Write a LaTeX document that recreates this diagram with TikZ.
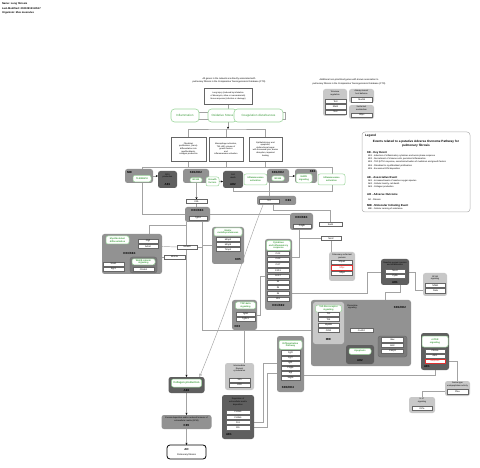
\documentclass[tikz,border=0pt]{standalone}
\usepackage{fontspec}
\setmainfont{Liberation Sans}
\usetikzlibrary{arrows.meta}
\definecolor{kegrey}{HTML}{929292}
\definecolor{aegrey}{HTML}{5F5F5F}
\definecolor{ltgrey}{HTML}{C8C8C8}
\definecolor{apogrey}{HTML}{7A7A7A}
\definecolor{pwgreen}{HTML}{3C9B3C}
\definecolor{pwedge}{HTML}{9AD69A}
\definecolor{wiregrey}{HTML}{A3A3A3}
\definecolor{geneedge}{HTML}{666666}
\definecolor{hitred}{HTML}{E03030}
\pgfdeclarelayer{paper}
\pgfdeclarelayer{wires}
\pgfsetlayers{paper,wires,main}

\begin{document}
\begin{tikzpicture}[x=1pt,y=-1pt,
 every node/.style={font=\fontsize{2.3}{2.7}\selectfont, inner sep=0pt, outer sep=0pt, align=center},
 kegrp/.style={fill=kegrey, rounded corners=2.5pt},
 aegrp/.style={fill=aegrey, rounded corners=2.5pt},
 ltgrp/.style={fill=ltgrey, rounded corners=2.5pt},
 gene/.style={draw=geneedge, fill=white, line width=0.3pt, minimum height=4.2},
 hit/.style={gene, draw=hitred, text=hitred},
 pw/.style={draw=pwedge, fill=white, text=pwgreen, rounded corners=2pt, line width=0.5pt, font=\fontsize{2.3}{2.7}\selectfont\bfseries},
 bigpw/.style={pw, rounded corners=3.5pt, line width=0.6pt, font=\fontsize{3}{3.4}\selectfont},
 note/.style={draw=geneedge, fill=white, line width=0.4pt, font=\fontsize{2.1}{2.6}\selectfont},
 grptext/.style={font=\fontsize{2.1}{2.6}\selectfont},
 tag/.style={font=\fontsize{2.9}{3.2}\selectfont\bfseries},
 head/.style={anchor=west, font=\fontsize{2.8}{3}\selectfont\bfseries},
 wire/.style={draw=wiregrey, line width=0.45pt},
 arr/.style={wire, -{Stealth[length=2.2pt,width=2pt,color=black]}},
 conv/.style={wire, -{Triangle[open,length=3pt,width=3pt]}}]
\begin{pgfonlayer}{paper}
\fill[white] (0,0) rectangle (480,468);
\end{pgfonlayer}
\useasboundingbox (0,0) rectangle (480,468);

\node[anchor=west, font=\fontsize{2.6}{3}\selectfont\bfseries] (hname) at (2,4) {Name: Lung fibrosis};
\node[anchor=west, font=\fontsize{2.6}{3}\selectfont\bfseries] (hdate) at (2,8.5) {Last-Modified: 20210915113517};
\node[anchor=west, font=\fontsize{2.6}{3}\selectfont\bfseries] (horg) at (2,13) {Organism: Mus musculus};

\node[font=\fontsize{2.3}{3.2}\selectfont] (ctdnote) at (229,80.5) {All genes in the network are directly associated with\\pulmonary fibrosis in the Comparative Toxicogenomics Database (CTD)};
\node[font=\fontsize{2.3}{3.4}\selectfont] (extranote) at (349,82) {Additional non-prioritized genes with known association to\\pulmonary fibrosis in the Comparative Toxicogenomics Database (CTD)};
\node[note, minimum width=48, minimum height=16] (injury) at (228,96) {Lung injury (induced by inhalation\\of bleomycin, silica or nanomaterials)\\tissue response (infection or damage)};

\node[bigpw, minimum width=28, minimum height=13] (inflam) at (185,115.5) {Inflammation};
\node[bigpw, minimum width=29, minimum height=13] (oxstress) at (222.5,115.5) {Oxidative Stress};
\node[bigpw, minimum width=49, minimum height=13] (coag) at (258.5,115.5) {Coagulation disturbances};

\node[note, minimum width=35, minimum height=24] (fibro) at (188.5,149) {Fibroblast\\proliferation, (trans)-\\differentiation into\\myofibroblasts,\\collagen production};
\node[note, minimum width=34, minimum height=24] (macro) at (226,149) {Macrophage activation,\\Th2 shift, release of\\growth factors\\and\\inflammasome activation};
\node[note, minimum width=33, minimum height=24] (epith) at (265.5,149) {Epithelial injury and\\apoptosis,\\dysfunctional repair\\with increased lysis, barrier\\disruption, impaired\\healing};

\node[kegrp, minimum width=28, minimum height=14] (mie) at (139,176) {};
\node[tag, anchor=west] (mietag) at (127,172.3) {MIE};
\node[pw, minimum width=18, minimum height=6.5] (tlrmapk) at (142,178.6) {TLR/MAPK};
\node[aegrp, minimum width=19, minimum height=17] (ros1) at (167.5,179.5) {};
\node[grptext] (ros1txt) at (167.5,176) {ROS\\production};
\node[tag] (ros1tag) at (167.5,184.3) {AE1};
\node[kegrp, minimum width=26, minimum height=14] (nfkbgrp) at (196,176) {};
\node[tag] (nfkbtag) at (196,172.3) {KE1/KE2};
\node[pw, minimum width=12, minimum height=4.5] (nfkb) at (196,180) {NF-kB};
\node[pw, minimum width=13, minimum height=9] (growth) at (212.5,181.5) {Growth\\factors};
\node[aegrp, minimum width=20, minimum height=17] (death) at (233,179.5) {};
\node[grptext] (deathtxt) at (233,176) {Cell\\death};
\node[tag] (deathtag) at (233,184.3) {AE2};
\node[pw, minimum width=23, minimum height=11] (inflsome) at (255.5,179.5) {Inflammasome\\activation};
\node[kegrp, minimum width=22, minimum height=14] (nfkbgrp2) at (278,176) {};
\node[tag] (nfkbtag2) at (278,172.3) {KE1/KE2};
\node[pw, minimum width=12.5, minimum height=5] (nfkb2) at (278,178.4) {NF-kB};
\node[kegrp, minimum width=22, minimum height=14] (mapkgrp) at (306,176) {};
\node[tag, anchor=east] (mapktag) at (315.5,171.8) {KE4};
\node[pw, minimum width=16, minimum height=9] (mapk) at (304,178.3) {MAPK\\signaling};
\node[pw, minimum width=27, minimum height=11] (inflsome2) at (331.5,179.5) {Inflammasome\\activation};

\node[gene, minimum width=21] (il1b) at (196.5,201.5) {Il1b};
\node[kegrp, minimum width=25, minimum height=15] (tgfgrp) at (197.5,214.5) {};
\node[tag] (tgftag) at (197.5,210.5) {KE3/KE4};
\node[gene, minimum width=18] (tgfb1) at (198,218.3) {Tgfb1};
\node[kegrp, minimum width=39, minimum height=9, rounded corners=2pt] (tnfgrp) at (276.5,200.5) {};
\node[gene, minimum width=20] (tnf) at (269,200.8) {Tnf};
\node[tag] (tnftag) at (288.5,200.8) {KE1};
\node[kegrp, minimum width=23, minimum height=17] (pdgfgrp) at (301.5,221.5) {};
\node[tag] (pdgftag) at (301.5,217) {KE3/KE4};
\node[gene, minimum width=18] (pdgfb) at (302,226.3) {Pdgfb};
\node[gene, minimum width=23] (sod1) at (330.5,224.5) {Sod1};
\node[gene, minimum width=20] (nos2) at (331,238.5) {Nos2};
\node[ltgrp, minimum width=26, minimum height=29] (surfgrp) at (342,266.5) {};
\node[grptext] (surftxt) at (342,256.5) {Pulmonary surfactant\\proteins};
\node[gene, minimum width=21] (sftpa) at (342,262) {Sftpa1};
\node[hit, minimum width=21] (sftpc) at (342,267.6) {Sftpc};
\node[gene, minimum width=21] (sftpd) at (342,273.2) {Sftpd};

\node[kegrp, minimum width=60, minimum height=40] (myogrp) at (132,254) {};
\node[pw, minimum width=23, minimum height=8] (myodiff) at (117.5,240) {Myofibroblast\\differentiation};
\node[gene, minimum width=20] (ctgf) at (148,241) {Ctgf};
\node[gene, minimum width=20] (acta2) at (148,246.3) {Acta2};
\node[tag] (myotag) at (129.5,253) {KE3/KE4};
\node[gene, minimum width=21] (snai1) at (113.5,264) {Snai1};
\node[gene, minimum width=21] (egr1) at (113.5,269.2) {Egr1};
\node[fill=apogrey, draw=geneedge, line width=0.3pt, rounded corners=2.5pt, minimum width=27, minimum height=16] (wntgrp) at (143.5,265) {};
\node[pw, minimum width=23, minimum height=6] (wnt) at (143.5,261.8) {Wnt/β-catenin\\signaling};
\node[gene, minimum width=21] (ctnnb1) at (143.5,269.3) {Ctnnb1};
\node[gene, minimum width=20] (smad3) at (187,247) {Smad3};
\node[gene, minimum width=21] (wnt3a) at (174.5,257) {Wnt3a};

\node[kegrp, minimum width=32, minimum height=37] (mmpgrp) at (228,245.5) {};
\node[pw, minimum width=28, minimum height=8] (mmp) at (228,232) {Matrix\\metalloproteinases};
\node[gene, minimum width=24] (mmp2) at (228,239.5) {Mmp2};
\node[gene, minimum width=24] (mmp9) at (228,244.5) {Mmp9};
\node[gene, minimum width=24] (timp1) at (228,249.5) {Timp1};
\node[tag] (mmptag) at (238,260) {KE5};

\node[kegrp, minimum width=27, minimum height=71] (cytogrp) at (278.5,274.5) {};
\node[pw, minimum width=24, minimum height=10] (cyto) at (278.5,245.5) {Cytokines\\and inflammatory\\response};
\node[gene, minimum width=22] (ccl2) at (278,253.3) {Ccl2};
\node[gene, minimum width=22] (ccl3) at (278,259) {Ccl3};
\node[gene, minimum width=22] (ccl7) at (278,264.7) {Ccl7};
\node[gene, minimum width=22] (ccl11) at (278,270.4) {Ccl11};
\node[gene, minimum width=22] (ccl17) at (278,276.1) {Ccl17};
\node[gene, minimum width=22] (il4) at (278,281.8) {Il4};
\node[gene, minimum width=22] (il5) at (278,287.5) {Il5};
\node[gene, minimum width=22] (il6) at (278,293.2) {Il6};
\node[gene, minimum width=22] (il13) at (278,298.9) {Il13};
\node[tag] (cytotag) at (278.5,305.8) {KE1/KE2};

\node[kegrp, minimum width=25, minimum height=30] (tgfbgrp) at (244.5,315) {};
\node[pw, minimum width=20, minimum height=7] (tgfbpw) at (245.5,305.5) {TGF-beta\\signaling};
\node[gene, minimum width=19] (tgfb1b) at (245.5,313.8) {Tgfb1};
\node[gene, minimum width=19] (tgfbr1) at (245.5,319) {Tgfbr1};
\node[tag, anchor=west] (tgfbtag) at (234.5,326.8) {KE3};

\node[ltgrp, minimum width=29, minimum height=27] (ifcgrp) at (239.5,376.5) {};
\node[grptext] (ifctxt) at (239.5,368.6) {Intermediate\\filament\\cytoskeleton};
\node[gene, minimum width=21] (vim) at (239.5,380) {Vim};
\node[gene, minimum width=21] (krt8) at (239.5,385.2) {Krt8};

\node[aegrp, minimum width=32, minimum height=44] (ecmgrp) at (238,417) {};
\node[grptext] (ecmtxt) at (238,402) {Regulation of\\extracellular matrix\\deposition};
\node[gene, minimum width=24] (col1a1) at (238,412) {Col1a1};
\node[gene, minimum width=24] (col3a1) at (238,417.2) {Col3a1};
\node[gene, minimum width=24] (fn1) at (238,422.4) {Fn1};
\node[gene, minimum width=24] (eln) at (238,427.6) {Eln};
\node[tag, anchor=west] (ecmtag) at (226,435) {AE1};

\node[kegrp, minimum width=27, minimum height=56] (diffgrp) at (290.5,364) {};
\node[pw, minimum width=23, minimum height=9] (diff) at (290.5,344.8) {Differentiation\\Pathway};
\node[gene, minimum width=19] (fgf2) at (290.5,352.7) {Fgf2};
\node[gene, minimum width=19] (fgf7) at (290.5,357.8) {Fgf7};
\node[gene, minimum width=19] (igf1) at (290.5,362.9) {Igf1};
\node[gene, minimum width=19] (pdgfa) at (290.5,368) {Pdgfa};
\node[gene, minimum width=19] (egf) at (290.5,373.1) {Egf};
\node[gene, minimum width=19] (vegfa) at (290.5,378.2) {Vegfa};
\node[tag] (difftag) at (288,387.8) {KE3/KE4};

\node[kegrp, minimum width=100, minimum height=66] (chemgrp) at (361,333) {};
\node[tag, anchor=east] (chemtag) at (406,307) {KE1/KE2};
\node[grptext, anchor=west] (chemtxt) at (347,307) {Chemokine\\signaling};
\node[ltgrp, minimum width=31, minimum height=42] (tlrgrp) at (328.5,323) {};
\node[pw, minimum width=26, minimum height=7] (tlr) at (328.5,308.7) {Toll-like receptor\\signaling};
\node[gene, minimum width=21] (tlr2) at (328.5,313.8) {Tlr2};
\node[gene, minimum width=21] (tlr4) at (328.5,319.3) {Tlr4};
\node[gene, minimum width=21] (myd88) at (328.5,324.8) {Myd88};
\node[gene, minimum width=21] (cd14) at (328.5,330.3) {Cd14};
\node[tag] (tlrtag) at (328.5,339.5) {MIE};
\node[gene, minimum width=23] (cxcl12) at (361.5,330.5) {Cxcl12};
\node[fill=apogrey, draw=geneedge, line width=0.4pt, rounded corners=2.5pt, minimum width=29, minimum height=21] (casgrp) at (392.5,346.5) {};
\node[gene, minimum width=22] (bax) at (392.5,339.7) {Bax};
\node[gene, minimum width=22] (bcl2) at (392.5,345.5) {Bcl2};
\node[gene, minimum width=22] (casp3) at (392.5,351.3) {Casp3};
\node[aegrp, minimum width=28, minimum height=19] (apogrp) at (360,354.5) {};
\node[pw, minimum width=22, minimum height=6] (apop) at (360,351.3) {Apoptosis};
\node[tag] (apotag) at (360,360.5) {AE2};

\node[aegrp, minimum width=28, minimum height=26] (rosgrp) at (395,272) {};
\node[grptext] (rostxt) at (395,263.6) {Reactive oxygen species\\and inflammation};
\node[gene, minimum width=20] (nox4) at (395,270.8) {Nox4};
\node[gene, minimum width=20] (cybb) at (395,276.2) {Cybb};
\node[tag] (rostag) at (395,282.2) {AE1};

\node[ltgrp, minimum width=24, minimum height=23] (nrfgrp) at (435,284.5) {};
\node[grptext] (nrftxt) at (435,278) {NF-kB\\signaling};
\node[gene, minimum width=20] (nfkb1) at (435.5,285.5) {Nfkb1};
\node[gene, minimum width=20] (rela) at (435.5,290.7) {Rela};

\node[aegrp, minimum width=28, minimum height=37] (mtorgrp) at (435,351.5) {};
\node[pw, minimum width=26, minimum height=11] (mtor) at (435,341.5) {mTOR\\signaling};
\node[gene, minimum width=20] (pik3ca) at (435,351) {Pik3ca};
\node[gene, minimum width=20] (akt1) at (435,356) {Akt1};
\node[hit, minimum width=20] (serpine) at (435,361.3) {Serpine1};
\node[tag, anchor=west] (mtortag) at (424,366.8) {AE1};

\node[ltgrp, minimum width=25, minimum height=15] (sergrp) at (457.5,388.5) {};
\node[grptext] (sertxt) at (457.5,384.3) {Serine-type\\endopeptidase activity};
\node[gene, minimum width=21] (plau) at (457.5,391.6) {Plau};

\node[ltgrp, minimum width=26, minimum height=16] (ilgrp) at (422,405) {};
\node[grptext] (iltxt) at (422,400.5) {IL-17\\signaling};
\node[gene, minimum width=20] (il17a) at (422,408.3) {Il17a};

\node[aegrp, minimum width=36, minimum height=16] (collgrp) at (186.5,385) {};
\node[pw, minimum width=30, minimum height=8, font=\fontsize{2.7}{3}\selectfont\bfseries] (coll) at (186.5,383) {Collagen production};
\node[tag] (colltag) at (186.5,390.3) {AE3};

\node[kegrp, minimum width=50, minimum height=14] (ecmke) at (186.5,422) {};
\node[grptext] (ecmketxt) at (186.5,419.3) {Excess deposition and/or reduced turnover of\\extracellular matrix (ECM)};
\node[tag] (ecmketag) at (186.5,425.8) {KE5};

\node[draw=black, line width=0.8pt, fill=white, rounded corners=3pt, minimum width=39, minimum height=14] (ao) at (186.5,452) {};
\node[tag] (aotag) at (186.5,449.5) {AO};
\node (aotxt) at (186.5,455.3) {Pulmonary fibrosis};

\node[ltgrp, minimum width=24, minimum height=27] (telgrp) at (335,102.5) {};
\node[grptext] (teltxt) at (335,93.5) {Telomere\\regulation};
\node[gene, minimum width=21] (tert) at (335.5,101.3) {Tert};
\node[gene, minimum width=21] (rtel1) at (335.5,106.7) {Rtel1};
\node[gene, minimum width=21] (terc) at (335.5,112) {Terc};
\node[ltgrp, minimum width=25, minimum height=14] (mucgrp) at (361.5,96) {};
\node[grptext] (muctxt) at (361.5,92.4) {Airway mucus/\\host defense};
\node[gene, minimum width=21] (muc5b) at (361.8,99.7) {Muc5b};
\node[ltgrp, minimum width=25, minimum height=14] (sfcgrp) at (361.5,112) {};
\node[grptext] (sfctxt) at (361.5,108.4) {Surfactant\\metabolism};
\node[gene, minimum width=21] (sftpc2) at (361.8,114.8) {Sftpc};

\node[draw=gray!60, fill=white, rounded corners=3pt, line width=0.5pt, minimum width=108, minimum height=80] (legend) at (416,172) {};
\node[anchor=west, font=\fontsize{3.1}{3.4}\selectfont\bfseries] (legtitle) at (365,136) {Legend};
\node[font=\fontsize{3.1}{3.7}\selectfont\bfseries] (legaop) at (416,143.8) {Events related to a putative Adverse Outcome Pathway for\\pulmonary fibrosis};
\node[head] (legke) at (367,153) {KE - Key Event};
\node[anchor=north west, align=left, font=\fontsize{2.2}{3.3}\selectfont] (legkelist) at (368,154.8) {KE1 - Induction of inflammatory cytokines and acute phase response\\KE2 - Recruitment of immune cells, persistent inflammation\\KE3 - TGF-β/Th2 response, secretion/activation of mediators and growth factors\\KE4 - Fibroblast to myofibroblast proliferation\\KE5 - Excessive ECM deposition};
\node[head] (legae) at (367,178) {AE - Associative Event};
\node[anchor=north west, align=left, font=\fontsize{2.2}{3.3}\selectfont] (legaelist) at (368,179.8) {AE1 - Increased levels of reactive oxygen species\\AE2 - Cellular toxicity, cell death\\AE3 - Collagen production};
\node[head] (legao) at (367,194.3) {AO - Adverse Outcome};
\node[anchor=west, font=\fontsize{2.2}{3.3}\selectfont] (legaolist) at (368,199.8) {AO - Fibrosis};
\node[head] (legmie) at (367,205.8) {MIE - Molecular Initiating Event};
\node[anchor=west, font=\fontsize{2.2}{3.3}\selectfont] (legmielist) at (368,209.3) {MIE - Cellular sensing of substance};

\begin{pgfonlayer}{wires}
\draw[wire] (injury.south) -- (injury.south |- oxstress.north);
\draw[wire] ([yshift=3.5pt]inflam.east) -- ([yshift=3.5pt]oxstress.west);
\draw[wire] ([yshift=-3.5pt]inflam.east) -- ([yshift=-3.5pt]oxstress.west);
\draw[wire] ([yshift=3.5pt]coag.east) -- ++(2,0) -- ++(0,7) -- ++(-2,0);
\coordinate (topbus) at (228,129);
\draw[arr] (injury.south |- oxstress.south) -- (topbus);
\draw[wire] (fibro.north) |- (topbus) -| (epith.north);
\draw[wire] (macro.north) -- (macro.north |- topbus);
\coordinate (midbus) at (142,167);
\coordinate (midbusr) at (332,167);
\coordinate (lowbus) at (332,191);
\draw[wire] (fibro.south) -- (fibro.south |- midbus);
\draw[wire] (macro.south) -- (macro.south |- midbus);
\draw[wire] (epith.south) -- (epith.south |- midbus);
\draw[wire] (midbus) -- (midbusr) -- (lowbus) -| (death.south);
\draw[wire] (midbus) |- (tgfgrp.west);
\draw[wire] (tgfgrp.east) -- (tgfgrp.east -| pdgfgrp.west);
\draw[arr] (mie.east) -- (mie.east -| ros1.west);
\draw[arr] (growth.east) -- (growth.east -| death.west);
\draw[arr] (nfkbgrp2.east) -- (mapkgrp.west);
\draw[arr] (il1b.north |- nfkbgrp.south) -- (il1b.north);
\draw[wire] (il1b.south) -- (il1b.south |- tgfgrp.north);
\draw[wire] (tnf.north |- nfkbgrp2.south) -- (tnf.north);
\coordinate (sodbus) at (273,210);
\draw[wire] (sodbus |- tnfgrp.south) -- (sodbus) -| (sod1.north);
\draw[conv] ([xshift=-13.5pt]tnfgrp.south) .. controls (245,250) and (235,290) .. ([xshift=-5pt]collgrp.north east);
\coordinate (pdgfbus) at (299,238.5);
\draw[wire] (pdgfbus |- pdgfgrp.south) -- (pdgfbus) -- (nos2.west);
\draw[wire] (pdgfbus) |- (cytogrp.east |- 0,257);
\draw[wire] (nos2.south) -- (nos2.south |- surfgrp.north);
\coordinate (collbus) at (186.5,225);
\coordinate (myobus) at (149,225);
\draw[arr] (collbus |- tgfgrp.south) -- (collgrp.north);
\draw[wire] (collbus) -- (myobus) -- (myobus |- myogrp.north);
\coordinate (tlrbus) at (202,330);
\draw[wire] (tlrbus |- tgfgrp.south) -- (tlrbus) -- (tlrbus -| tlrgrp.west);
\draw[wire] (tlrbus |- mmpgrp.west) -- (mmpgrp.west);
\draw[wire] (acta2.east) -- (smad3.west);
\draw[wire] (smad3.east) -- (smad3.east -| tlrbus);
\draw[wire] (wntgrp.east) -- ++(1.5,0) |- (wnt3a.west);
\draw[wire] (wnt3a.east) -- (wnt3a.east -| collbus);
\draw[wire] (ccl17.west) -| ([xshift=3pt]tgfbgrp.east) -- (tgfbgrp.east);
\draw[wire] (il6.east -| cytogrp.east) -| ([xshift=-14pt]rosgrp.west) -- (rosgrp.west);
\draw[wire] (rosgrp.east) -- ++(6,0) |- (rela.west -| nrfgrp.west);
\draw[wire] ([xshift=5pt]rosgrp.south) -- ++(0,7) -| ([xshift=24pt]chemgrp.north);
\draw[wire] (tgfbgrp.south) -- (tgfbgrp.south |- ifcgrp.north);
\draw[wire] (fn1.east) -- ++(13,0) |- (igf1.west -| diffgrp.west);
\draw[wire] (eln.east) -- ++(17,0) |- (egf.west -| diffgrp.west);
\coordinate (mtorbus) at (435,375);
\draw[wire] (diffgrp.east |- mtorbus) -- (mtorbus) -- (mtorgrp.south);
\draw[wire] (serpine.east -| mtorgrp.east) -| (sergrp.north);
\draw[wire] (sergrp.west |- plau.west) -| (ilgrp.north);
\draw[wire] (tlr4.east) -| (cxcl12.north);
\draw[wire] (cd14.east) -- (cd14.east -| cxcl12.west);
\draw[wire] (cxcl12.east) -| (casgrp.north);
\draw[arr] (collgrp.south) -- (ecmke.north);
\draw[arr] (ecmke.south) -- (ao.north);
\end{pgfonlayer}
\end{tikzpicture}
\end{document}
